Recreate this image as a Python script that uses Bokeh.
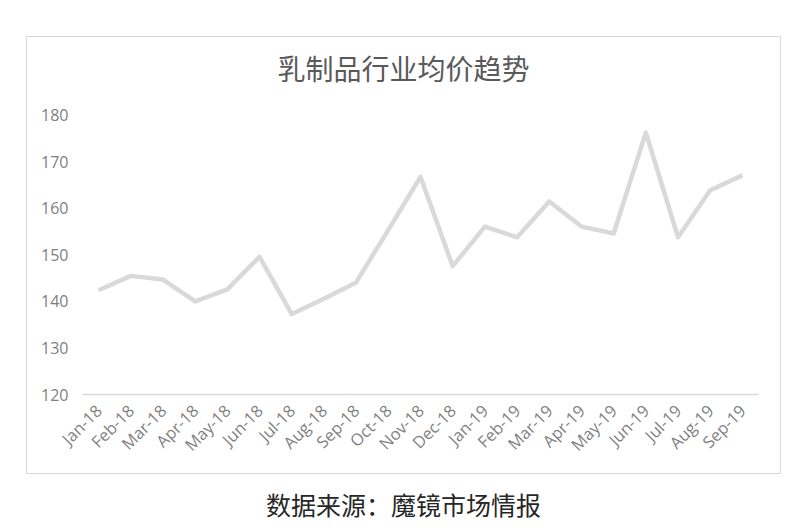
from bokeh.plotting import figure
from bokeh.models import Range1d, FactorRange, Title, Div
from bokeh.layouts import column
from bokeh.embed import file_html
from bokeh.resources import INLINE
import math

months = ["Jan-18", "Feb-18", "Mar-18", "Apr-18", "May-18", "Jun-18", "Jul-18",
          "Aug-18", "Sep-18", "Oct-18", "Nov-18", "Dec-18", "Jan-19", "Feb-19",
          "Mar-19", "Apr-19", "May-19", "Jun-19", "Jul-19", "Aug-19", "Sep-19"]
avg_price = [142.4, 145.5, 144.7, 140.0, 142.6, 149.6, 137.3, 140.6, 144.1, 155.4,
             166.8, 147.6, 156.1, 153.8, 161.5, 156.1, 154.6, 176.3, 153.8, 163.9, 167.1]
y_ticks = [120, 130, 140, 150, 160, 170, 180]
title_text = "乳制品行业均价趋势"
caption_text = "数据来源：魔镜市场情报"

FONT = "Noto Sans CJK SC"
TICK_FONT = "Open Sans"

p = figure(width=753, height=436, x_range=FactorRange(*months), y_range=Range1d(120, 186),
           output_backend="svg", toolbar_location=None,
           min_border_left=55, min_border_right=22, min_border_top=50, min_border_bottom=79)
p.outline_line_color = None
p.background_fill_color = "white"
p.border_fill_color = "white"
p.xgrid.grid_line_color = None
p.ygrid.grid_line_color = None
p.x_range.range_padding = 0
p.x_range.factor_padding = 0
p.margin = (37, 0, 0, 27)
p.styles = {"outline": "1px solid #d9d9d9"}

p.line(months, avg_price, line_color="#d9d9d9", line_width=4.5, line_join="round")

p.yaxis.ticker = y_ticks
p.yaxis.axis_line_color = None
p.yaxis.major_tick_line_color = None
p.yaxis.major_tick_out = 0
p.yaxis.major_tick_in = 0
p.yaxis.minor_tick_line_color = None
p.yaxis.major_label_text_color = "#7f7f7f"
p.yaxis.major_label_text_font = TICK_FONT
p.yaxis.major_label_text_font_size = "16px"
p.yaxis.major_label_standoff = 14

p.xaxis.axis_line_color = "#d9d9d9"
p.xaxis.axis_line_width = 1.5
p.xaxis.major_tick_line_color = None
p.xaxis.major_tick_out = 0
p.xaxis.major_tick_in = 0
p.xaxis.minor_tick_line_color = None
p.xaxis.major_label_orientation = math.pi / 4
p.xaxis.major_label_text_color = "#7f7f7f"
p.xaxis.major_label_text_font = TICK_FONT
p.xaxis.major_label_text_font_size = "16.5px"
p.xaxis.major_label_standoff = 13

t = Title(text=title_text, align="left", offset=195, text_font=FONT, text_font_size="28px",
          text_color="#595959", text_font_style="normal", standoff=0)
p.add_layout(t, "above")

cap = Div(text=caption_text, width=753, height=40, margin=(16, 0, 0, 27),
          styles={"text-align": "center", "font-family": FONT, "font-size": "25px",
                  "color": "#262626", "line-height": "30px", "width": "753px"})

layout = column(p, cap, spacing=0)
open("out.html", "w").write(file_html(layout, INLINE))
